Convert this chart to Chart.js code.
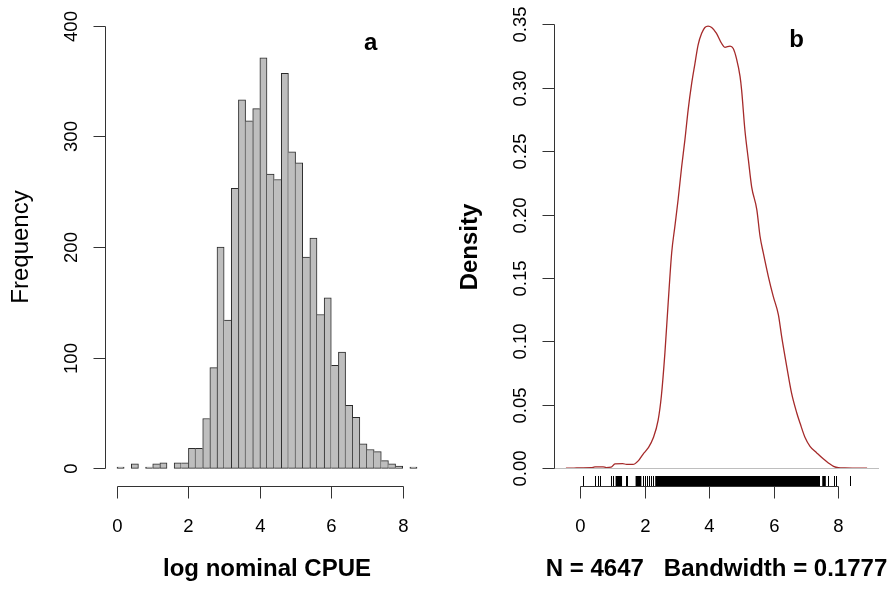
<!DOCTYPE html>
<html>
<head>
<meta charset="utf-8">
<script src="https://cdn.jsdelivr.net/npm/chart.js@4"></script>
<style>
  body { margin: 0; background: #fff; }
  #wrap { position: relative; width: 887px; height: 590px; }
  canvas { position: absolute; top: 0; }
  #histo { left: 0; }
  #dens { left: 443px; }
</style>
</head>
<body>
<div id="wrap">
  <canvas id="histo" width="443" height="590"></canvas>
  <canvas id="dens" width="444" height="590"></canvas>
</div>
<script>
// histogram (panel a): bin mids, width 0.2
const histMids = [0.1, 0.3, 0.5, 0.7, 0.9, 1.1, 1.3, 1.5, 1.7, 1.9,
  2.1, 2.3, 2.5, 2.7, 2.9, 3.1, 3.3, 3.5, 3.7, 3.9,
  4.1, 4.3, 4.5, 4.7, 4.9, 5.1, 5.3, 5.5, 5.7, 5.9,
  6.1, 6.3, 6.5, 6.7, 6.9, 7.1, 7.3, 7.5, 7.7, 7.9,
  8.1, 8.3];
const histCounts = [1, 0, 4, 0, 1, 4, 5, 0, 5, 5,
  18, 18, 45, 91, 200, 134, 253, 333, 314, 325,
  371, 266, 261, 357, 286, 276, 191, 208, 139, 154,
  93, 105, 57, 46, 22, 17, 15, 7, 4, 2,
  0, 1];
const freqTicks = [0, 100, 200, 300, 400];
const cpueTicks = [0, 2, 4, 6, 8];

// density (panel b)
const densX = [-0.45, -0.2, 0.0, 0.34, 0.45, 0.70, 0.80, 0.95, 1.07, 1.31,
  1.43, 1.63, 1.80, 1.94, 2.10, 2.26, 2.41, 2.51, 2.62, 2.72,
  2.83, 2.93, 3.03, 3.14, 3.24, 3.34, 3.45, 3.55, 3.65, 3.76,
  3.86, 3.96, 4.07, 4.22, 4.38, 4.48, 4.64, 4.74, 4.84, 4.95,
  5.00, 5.10, 5.21, 5.31, 5.47, 5.57, 5.67, 5.83, 5.98, 6.14,
  6.24, 6.40, 6.55, 6.71, 6.81, 6.97, 7.12, 7.33, 7.53, 7.69,
  7.85, 8.00, 8.20, 8.43, 8.89];
const densY = [0, 0.0001, 0.0003, 0.0004, 0.0011, 0.0011, 0.0005, 0.0008, 0.0035, 0.0037,
  0.003, 0.003, 0.006, 0.011, 0.016, 0.024, 0.038, 0.057, 0.091, 0.130,
  0.170, 0.191, 0.212, 0.238, 0.259, 0.2825, 0.3035, 0.319, 0.334, 0.343,
  0.3476, 0.3487, 0.3476, 0.343, 0.335, 0.332, 0.333, 0.331, 0.323, 0.309,
  0.298, 0.267, 0.243, 0.222, 0.204, 0.183, 0.170, 0.151, 0.1355, 0.121,
  0.104, 0.080, 0.059, 0.0436, 0.0357, 0.024, 0.0173, 0.0121, 0.0074, 0.0042,
  0.0015, 0.0004, 0.0002, 0.0001, 0];
const densTicks = [0, 0.05, 0.10, 0.15, 0.20, 0.25, 0.30, 0.35];
const densTickLabels = ["0.00", "0.05", "0.10", "0.15", "0.20", "0.25", "0.30", "0.35"];

// rug: single visible ticks and solid (overplotted) runs
const rugTicks = [0.08, 0.44, 0.53, 0.60, 0.95, 1.01, 1.40, 1.45, 1.94, 2.00,
  2.07, 2.13, 2.19, 2.25, 7.69, 7.87, 7.92, 8.35];
const rugBands = [[1.09, 1.29], [1.71, 1.89], [2.32, 7.43], [7.50, 7.61]];

const FONT = '"Liberation Sans", Arial, sans-serif';

// R style axes, titles, zero line and rug
const rAxes = {
  id: "rAxes",
  afterDatasetsDraw(chart, args, o) {
    const { ctx, chartArea: a } = chart;
    const x = chart.scales.x, y = chart.scales.y;
    const bottom = Math.round(a.bottom) + 0.5;
    const left = Math.round(a.left) + 0.5;
    ctx.save();
    ctx.lineWidth = 1;

    if (o.zeroLine) {
      const py = Math.round(y.getPixelForValue(0)) + 0.5;
      ctx.strokeStyle = "#bebebe";
      ctx.beginPath();
      ctx.moveTo(a.left, py);
      ctx.lineTo(a.right, py);
      ctx.stroke();
    }

    if (o.rug) {
      ctx.strokeStyle = "#000";
      ctx.fillStyle = "#000";
      ctx.beginPath();
      o.rug.ticks.forEach(v => {
        const px = Math.round(x.getPixelForValue(v)) + 0.5;
        ctx.moveTo(px, a.bottom - 10);
        ctx.lineTo(px, a.bottom);
      });
      ctx.stroke();
      o.rug.bands.forEach(b => {
        const p0 = x.getPixelForValue(b[0]), p1 = x.getPixelForValue(b[1]);
        ctx.fillRect(p0, a.bottom - 10, p1 - p0, 10);
      });
    }

    // axes lines and ticks
    ctx.strokeStyle = "#333";
    ctx.beginPath();
    const xs = o.xTicks.map(v => Math.round(x.getPixelForValue(v)) + 0.5);
    ctx.moveTo(xs[0], bottom);
    ctx.lineTo(xs[xs.length - 1], bottom);
    xs.forEach(px => { ctx.moveTo(px, bottom); ctx.lineTo(px, bottom + 12); });
    const ys = o.yTicks.map(v => Math.round(y.getPixelForValue(v)) + 0.5);
    ctx.moveTo(left, ys[0]);
    ctx.lineTo(left, ys[ys.length - 1]);
    ys.forEach(py => { ctx.moveTo(left, py); ctx.lineTo(left - 12, py); });
    ctx.stroke();

    // tick labels
    ctx.fillStyle = "#000";
    ctx.font = "18.5px " + FONT;
    ctx.textAlign = "center";
    ctx.textBaseline = "alphabetic";
    xs.forEach((px, i) => ctx.fillText(o.xLabels[i], px, a.bottom + 45.5));
    ys.forEach((py, i) => {
      ctx.save();
      ctx.translate(a.left - 28, py);
      ctx.rotate(-Math.PI / 2);
      ctx.fillText(o.yLabels[i], 0, 0);
      ctx.restore();
    });

    // axis titles
    ctx.font = (o.xBold ? "bold " : "") + "24px " + FONT;
    ctx.fillText(o.xTitle, (a.left + a.right) / 2, 576);
    ctx.save();
    ctx.font = (o.yBold ? "bold " : "") + "24px " + FONT;
    ctx.translate(a.left - 77, (a.top + a.bottom) / 2);
    ctx.rotate(-Math.PI / 2);
    ctx.fillText(o.yTitle, 0, 0);
    ctx.restore();

    // panel letter
    ctx.font = "bold 24px " + FONT;
    ctx.fillText(o.letter, x.getPixelForValue(o.letterAt[0]), y.getPixelForValue(o.letterAt[1]));
    ctx.restore();
  }
};

// bar border: shared edges drawn once, by the taller neighbour
function histBorder(c) {
  const i = c.dataIndex;
  const h = histCounts[i] || 0;
  const prev = i > 0 ? histCounts[i - 1] : 0;
  const next = i < histCounts.length - 1 ? histCounts[i + 1] : 0;
  return { top: 1, bottom: 1, left: prev < h ? 1 : 0, right: next <= h ? 1 : 0 };
}

new Chart(document.getElementById("histo"), {
  type: "bar",
  data: {
    datasets: [{
      data: histMids.map((m, i) => ({ x: m, y: histCounts[i] || null })),
      backgroundColor: "#bebebe",
      borderColor: "#2b2b2b",
      borderWidth: histBorder,
      borderSkipped: false,
      barPercentage: 1,
      categoryPercentage: 1
    }]
  },
  options: {
    responsive: false,
    animation: false,
    layout: { padding: { left: 105, right: 14, top: 8, bottom: 104 } },
    plugins: {
      legend: { display: false },
      tooltip: { enabled: false },
      rAxes: {
        xTicks: cpueTicks, xLabels: cpueTicks.map(String),
        yTicks: freqTicks, yLabels: freqTicks.map(String),
        xTitle: "log nominal CPUE", xBold: true,
        yTitle: "Frequency", yBold: false,
        letter: "a", letterAt: [7.1, 378]
      }
    },
    scales: {
      x: { type: "linear", min: -0.336, max: 8.736, offset: false, display: false },
      y: { type: "linear", min: -16, max: 416, display: false }
    }
  },
  plugins: [rAxes]
});

new Chart(document.getElementById("dens"), {
  type: "line",
  data: {
    datasets: [{
      data: densX.map((v, i) => ({ x: v, y: densY[i] })),
      borderColor: "#a52a2a",
      borderWidth: 1.3,
      pointRadius: 0,
      cubicInterpolationMode: "monotone",
      fill: false
    }]
  },
  options: {
    responsive: false,
    animation: false,
    layout: { padding: { left: 111, right: 8, top: 8, bottom: 104 } },
    plugins: {
      legend: { display: false },
      tooltip: { enabled: false },
      rAxes: {
        xTicks: cpueTicks, xLabels: cpueTicks.map(String),
        yTicks: densTicks, yLabels: densTickLabels,
        xTitle: "N = 4647   Bandwidth = 0.1777", xBold: true,
        yTitle: "Density", yBold: true,
        letter: "b", letterAt: [6.7, 0.332],
        zeroLine: true,
        rug: { ticks: rugTicks, bands: rugBands }
      }
    },
    scales: {
      x: { type: "linear", min: -0.82, max: 9.26, display: false },
      y: { type: "linear", min: -0.014, max: 0.363, display: false }
    }
  },
  plugins: [rAxes]
});
</script>
</body>
</html>
